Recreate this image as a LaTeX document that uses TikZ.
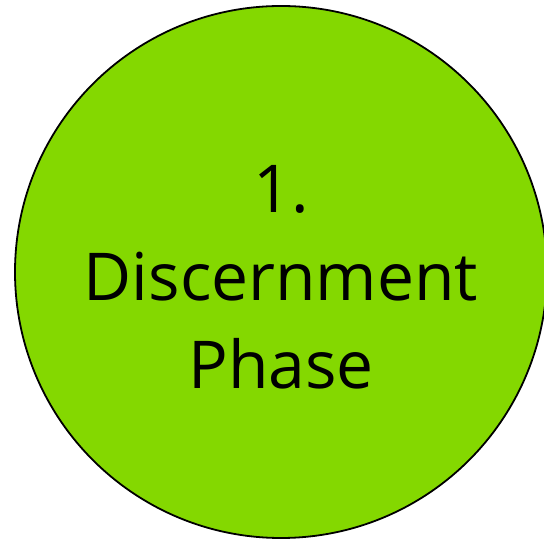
\documentclass[tikz,border=0pt]{standalone}
\usepackage{fontspec}
\setmainfont{Open Sans}
\definecolor{phasegreen}{HTML}{84D800}
\begin{document}
\begin{tikzpicture}[x=1pt,y=1pt,
  phasecircle/.style={circle,draw=black,line width=1.8pt,fill=phasegreen,minimum size=532pt,inner sep=0pt},
  phasetext/.style={align=center,font=\fontsize{66}{88}\selectfont}]
\useasboundingbox (0,0) rectangle (544,541);
\begin{scope}
\clip (0,0) rectangle (544,541);
\node[phasecircle] (c) at (281,269) {};
\end{scope}
\node[phasetext] (t) at (281,264) {1.\\Discernment\\Phase};
\end{tikzpicture}
\end{document}
